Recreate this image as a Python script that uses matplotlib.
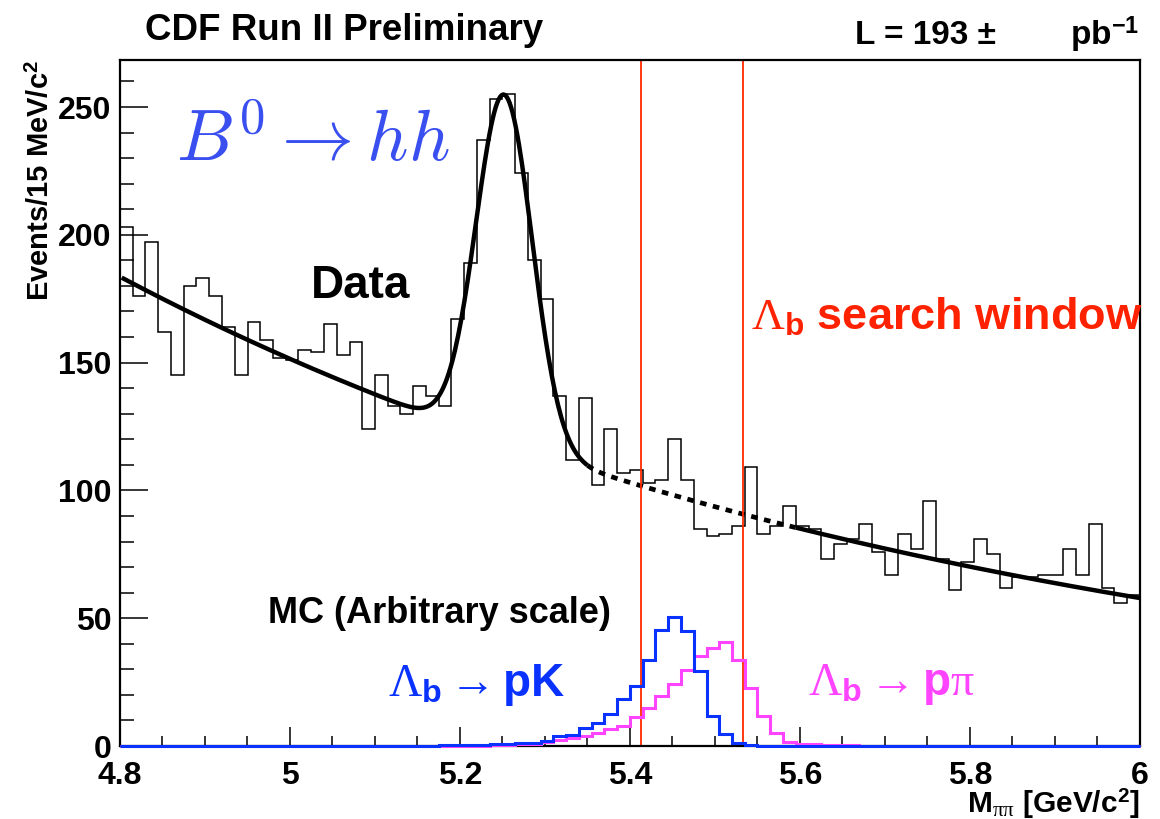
import numpy as np
import matplotlib
matplotlib.use('Agg')
from matplotlib import pyplot as plt

plt.rcParams['font.family'] = ['Liberation Sans', 'DejaVu Sans']
plt.rcParams['font.weight'] = 'bold'
plt.rcParams['mathtext.fontset'] = 'custom'
plt.rcParams['mathtext.rm'] = 'Liberation Serif:weight=normal'
plt.rcParams['mathtext.it'] = 'Liberation Serif:italic'
plt.rcParams['mathtext.bf'] = 'Liberation Sans:bold'

# binning: 80 bins of 15 MeV/c^2 from 4.8 to 6.0
bin_lo, bin_hi, n_bins = 4.8, 6.0, 80
edges = np.linspace(bin_lo, bin_hi, n_bins + 1)

data_counts = [203, 176, 197, 162, 145, 180, 183, 176, 164, 145,
               166, 159, 152, 151, 155, 154, 165, 153, 158, 124,
               145, 133, 130, 141, 137, 133, 167, 189, 237, 253,
               255, 224, 190, 175, 137, 112, 136, 102, 124, 107,
               108, 103, 104, 120, 104, 85, 82, 83, 86, 109,
               83, 86, 94, 86, 85, 73, 79, 81, 87, 76,
               67, 83, 77, 96, 73, 61, 72, 81, 75, 62,
               66, 66, 67, 67, 77, 67, 87, 62, 56, 59]

mc_pk = [0] * 25 + [0.4, 0.4, 0.4, 0.4, 0.6, 0.6, 1.0, 1.0, 2.0, 4.0,
                    4.2, 7.0, 9.0, 12.4, 18.5, 23.5, 33.6, 45.5, 50.3, 44.8,
                    29.5, 11.9, 4.6, 1.0, 0.3] + [0] * 30

mc_ppi = [0] * 29 + [0.3, 0.3, 0.8, 0.9, 1.5, 2.3, 3.0, 4.0, 5.0, 6.5, 8.0,
                     11.5, 15.0, 19.7, 24.3, 29.9, 35.4, 38.4, 40.8, 33.6, 22.8,
                     11.6, 5.0, 1.5, 0.7, 0.7, 0.3, 0.2, 0.2] + [0] * 22

# fit: exponential background + gaussian B0 peak
bkg_norm, bkg_slope = 183.6, -0.962
peak_amp, peak_mean, peak_sigma = 136.0, 5.252, 0.033
fit_solid_end, fit_dot_end = 5.35, 5.595

# Lambda_b search window
window = [5.413, 5.5335]

xticks = [4.8, 5.0, 5.2, 5.4, 5.6, 5.8, 6.0]
xticklabels = ['4.8', '5', '5.2', '5.4', '5.6', '5.8', '6']
yticks = [0, 50, 100, 150, 200, 250]


def fit_func(x):
    return (bkg_norm * np.exp(bkg_slope * (x - bin_lo))
            + peak_amp * np.exp(-0.5 * ((x - peak_mean) / peak_sigma) ** 2))


fig = plt.figure(figsize=(11.6, 8.19), dpi=100)
ax = fig.add_axes([120 / 1160, 1 - 746 / 819, 1020 / 1160, 686 / 819])

ax.stairs(mc_ppi, edges, color='#ff44ff', lw=2.2, baseline=None, clip_on=False, zorder=3)
ax.stairs(mc_pk, edges, color='#0a32ff', lw=2.2, baseline=None, clip_on=False, zorder=3)
ax.stairs(data_counts, edges, color='black', lw=1.1, baseline=None)

x1 = np.linspace(4.802, fit_solid_end, 300)
x2 = np.linspace(fit_solid_end, fit_dot_end, 100)
x3 = np.linspace(fit_dot_end, bin_hi, 200)
ax.plot(x1, fit_func(x1), color='black', lw=3.2, solid_capstyle='butt')
ax.plot(x2, fit_func(x2), color='black', lw=3.4, linestyle=(0, (1.4, 1.4)))
ax.plot(x3, fit_func(x3), color='black', lw=3.2, solid_capstyle='butt')

for xv in window:
    ax.axvline(xv, color='#ff2a00', lw=1.3)

ax.set_xlim(bin_lo, bin_hi)
ax.set_ylim(0, 268.4)
ax.set_xticks(xticks)
ax.set_xticklabels(xticklabels)
ax.set_yticks(yticks)
ax.set_xticks(np.arange(4.8, 6.001, 0.05), minor=True)
ax.set_yticks(np.arange(0, 261, 10), minor=True)
ax.tick_params(axis='both', which='both', direction='in', top=False, right=False,
               labelsize=23, width=1.1)
ax.tick_params(axis='x', which='major', length=14, pad=11)
ax.tick_params(axis='x', which='minor', length=7)
ax.tick_params(axis='y', which='major', length=20, pad=6)
ax.tick_params(axis='y', which='minor', length=10)
for lab in ax.get_xticklabels() + ax.get_yticklabels():
    lab.set_fontweight('bold')
for sp in ax.spines.values():
    sp.set_linewidth(1.6)

ax.set_ylabel('Events/15 MeV/c$^{\\mathbf{2}}$', fontsize=21, fontweight='bold',
              loc='top', labelpad=2)
ax.set_xlabel('M$_{\\mathrm{\\pi\\pi}}$ [GeV/c$^{\\mathbf{2}}$]', fontsize=21.5,
              fontweight='bold', loc='right', labelpad=-3)

fig.text(145 / 1160, 1 - 30 / 819, 'CDF Run II Preliminary', fontsize=26.5,
         fontweight='bold', va='center', ha='left')
fig.text(855 / 1160, 1 - 35 / 819, 'L = 193 \u00b1', fontsize=24,
         fontweight='bold', va='center', ha='left')
fig.text(1070 / 1160, 1 - 35 / 819, 'pb$^{\\mathbf{-1}}$', fontsize=24,
         fontweight='bold', va='center', ha='left')

ax.text(4.866, 229, '$B^0 \\rightarrow hh$', color='#3a4ff0', fontsize=52,
        math_fontfamily='cm', va='baseline', ha='left')
ax.text(5.025, 180, 'Data', fontsize=33, fontweight='bold', va='center')
ax.text(5.542, 168, '$\\mathrm{\\Lambda}_{\\mathbf{b}}$ search window',
        color='#ff2200', fontsize=32.5, fontweight='bold', va='center')
ax.text(4.974, 52, 'MC (Arbitrary scale)', fontsize=26, fontweight='bold',
        va='center')
ax.text(5.115, 24, '$\\mathrm{\\Lambda}_{\\mathbf{b}} \\rightarrow \\mathbf{pK}$',
        color='#0a32ff', fontsize=33, va='center')
ax.text(5.609, 24, '$\\mathrm{\\Lambda}_{\\mathbf{b}} \\rightarrow \\mathbf{p}\\mathrm{\\pi}$',
        color='#ff44ff', fontsize=33, va='center')

fig.savefig('out.png', dpi=100)
